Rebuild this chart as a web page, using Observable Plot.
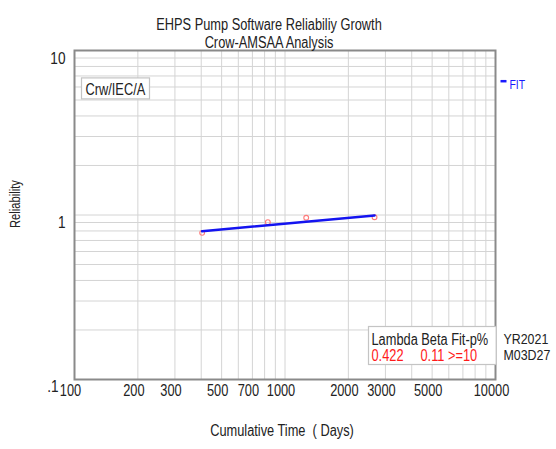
<!DOCTYPE html>
<html><head><meta charset="utf-8">
<script src="https://cdn.jsdelivr.net/npm/d3@7"></script>
<script src="https://cdn.jsdelivr.net/npm/@observablehq/plot@0.6"></script>
<style>
html,body{margin:0;padding:0;background:#fff;}
#chart{position:relative;width:556px;height:449px;overflow:hidden;}
</style></head><body><div id="chart"></div>
<script>
// ---- data ----
const titleLines = ["EHPS Pump Software Reliabiliy Growth", "Crow-AMSAA Analysis"];
const xLabel = "Cumulative Time  ( Days)";
const yLabel = "Reliability";
const xTickValues = [100, 200, 300, 500, 700, 1000, 2000, 3000, 5000, 10000];
const yTickValues = [0.1, 1, 10];
const yTickLabels = [".1", "1", "10"];
const pointTime = [404, 829, 1261, 2663];
const pointRel = [0.779, 0.904, 0.962, 0.970];
const fitTime = [404, 2663];
const fitRel = [0.797, 0.993];
const modelTag = "Crw/IEC/A";
const legendLabel = "FIT";
const statsHeader = "Lambda Beta Fit-p%";
const statsLambda = "0.422";
const statsBetaFit = "0.11 >=10";
const dateLines = ["YR2021", "M03D27"];

const FF = '"Liberation Sans", Arial, sans-serif';
const SX = 0.8; // horizontal condensing of text, as in the reference

const xGrid = d3.scaleLog().domain([100, 10000]).ticks();
const yGrid = d3.scaleLog().domain([0.1, 10]).ticks();
const pts = pointTime.map((t, i) => ({t, r: pointRel[i]}));
const fit = fitTime.map((t, i) => ({t, r: fitRel[i]}));
const xTicks = xTickValues.map(v => ({v, label: String(v)}));
const yTicks = yTickValues.map((v, i) => ({v, label: yTickLabels[i]}));
const txt = "#222";

const plot = Plot.plot({
  width: 556, height: 449,
  marginLeft: 74, marginRight: 61, marginTop: 50, marginBottom: 70,
  style: {fontFamily: FF, background: "white", overflow: "visible"},
  x: {type: "log", domain: [100, 10000], label: null, axis: null},
  y: {type: "log", domain: [0.1, 10], label: null, axis: null},
  marks: [
    Plot.gridX(xGrid, {stroke: "#d4d4d4", strokeOpacity: 1, strokeWidth: 1}),
    Plot.gridY(yGrid, {stroke: "#d4d4d4", strokeOpacity: 1, strokeWidth: 1}),
    Plot.frame({stroke: "#8a8a8a", strokeWidth: 2}),
    Plot.dot(pts, {x: "t", y: "r", r: 2.4, stroke: "#ff7a7a", strokeWidth: 1.1, fill: "none"}),
    Plot.line(fit, {x: "t", y: "r", stroke: "#1414f0", strokeWidth: 2.6}),
    Plot.text(xTicks, {x: "v", text: "label", frameAnchor: "bottom", dx: -4, dy: 16, fontSize: 16, fill: txt, className: "xl sx"}),
    Plot.text(yTicks, {filter: d => d.v >= 1, y: "v", text: "label", frameAnchor: "left", textAnchor: "end", dx: -9, dy: 8, fontSize: 17, fill: txt, className: "sx"}),
    Plot.text(yTicks, {filter: d => d.v < 1, y: "v", text: "label", frameAnchor: "left", textAnchor: "end", dx: -16, dy: 7, fontSize: 17, fill: txt, className: "sx"}),
    Plot.text([titleLines[0]], {frameAnchor: "top", dx: -16, dy: -32, fontSize: 16, fill: txt, className: "sx"}),
    Plot.text([titleLines[1]], {frameAnchor: "top", dx: -16, dy: -14, fontSize: 16, fill: txt, className: "sx"}),
    Plot.text([xLabel], {frameAnchor: "bottom", dx: -3, dy: 56, fontSize: 16, fill: txt, className: "sx"}),
    Plot.text([yLabel], {frameAnchor: "left", rotate: -90, dx: -59, dy: 13, fontSize: 14, fill: txt, className: "sx"}),
    Plot.text([modelTag], {frameAnchor: "top-left", textAnchor: "start", dx: 11, dy: 33, fontSize: 16, fill: txt, className: "tagbox sx"}),
    Plot.text([legendLabel], {frameAnchor: "top-right", textAnchor: "start", dx: 14, dy: 29, fontSize: 13, fill: "#1a1aff", className: "fitlabel sx"}),
    Plot.text([statsHeader], {frameAnchor: "bottom-right", textAnchor: "start", dx: -124, dy: -35, fontSize: 16, fill: txt, className: "statsbox sx"}),
    Plot.text([statsLambda], {frameAnchor: "bottom-right", textAnchor: "start", dx: -124, dy: -19, fontSize: 16, fill: "#ff1a1a", className: "statsbox sx"}),
    Plot.text([statsBetaFit], {frameAnchor: "bottom-right", textAnchor: "start", dx: -75, dy: -19, fontSize: 16, fill: "#ff1a1a", className: "statsbox sx"}),
    Plot.text([dateLines[0]], {frameAnchor: "bottom-right", textAnchor: "start", dx: 8, dy: -36, fontSize: 15.5, fill: txt, className: "sx"}),
    Plot.text([dateLines[1]], {frameAnchor: "bottom-right", textAnchor: "start", dx: 8, dy: -20, fontSize: 15.5, fill: txt, className: "sx"})
  ]
});
document.getElementById("chart").appendChild(plot);

// condense text horizontally (textLength keeps each text's own anchor)
plot.querySelectorAll(".sx text").forEach(n => {
  const w = n.getComputedTextLength();
  if (w > 0) {
    n.setAttribute("textLength", (w * SX).toFixed(2));
    n.setAttribute("lengthAdjust", "spacingAndGlyphs");
  }
});

// boxes behind annotation texts, computed from the rendered text extents
function textExtent(nodes) {
  let x0 = Infinity, y0 = Infinity, x1 = -Infinity, y1 = -Infinity;
  nodes.forEach(n => {
    const r = n.getBoundingClientRect();
    const s = plot.getBoundingClientRect();
    x0 = Math.min(x0, r.left - s.left); x1 = Math.max(x1, r.right - s.left);
    y0 = Math.min(y0, r.top - s.top); y1 = Math.max(y1, r.bottom - s.top);
  });
  return {x0, y0, x1, y1};
}
const firstText = plot.querySelector(".xl");
function boxAround(cls, pad) {
  const nodes = Array.from(plot.querySelectorAll("." + cls + " text"));
  if (!nodes.length) return;
  const {x0, y0, x1, y1} = textExtent(nodes);
  const r = document.createElementNS("http://www.w3.org/2000/svg", "rect");
  r.setAttribute("x", (x0 - pad[3]).toFixed(1));
  r.setAttribute("y", (y0 - pad[0]).toFixed(1));
  r.setAttribute("width", (x1 - x0 + pad[1] + pad[3]).toFixed(1));
  r.setAttribute("height", (y1 - y0 + pad[0] + pad[2]).toFixed(1));
  r.setAttribute("fill", "white");
  r.setAttribute("stroke", "#c4c4c4");
  r.setAttribute("stroke-width", "1.2");
  firstText.parentNode.insertBefore(r, firstText);
}
boxAround("tagbox", [3, 4, 1, 4]);
boxAround("statsbox", [4, 8, 1, 3]);

// legend dash before FIT
const fitNode = plot.querySelector(".fitlabel text");
if (fitNode) {
  const {x0, y0, y1} = textExtent([fitNode]);
  const y = y0 + (y1 - y0) * 0.3;
  const l = document.createElementNS("http://www.w3.org/2000/svg", "line");
  l.setAttribute("x1", (x0 - 9).toFixed(1)); l.setAttribute("x2", (x0 - 3).toFixed(1));
  l.setAttribute("y1", y.toFixed(1)); l.setAttribute("y2", y.toFixed(1));
  l.setAttribute("stroke", "#1a1aff"); l.setAttribute("stroke-width", "2.5");
  firstText.parentNode.insertBefore(l, firstText);
}
</script></body></html>
